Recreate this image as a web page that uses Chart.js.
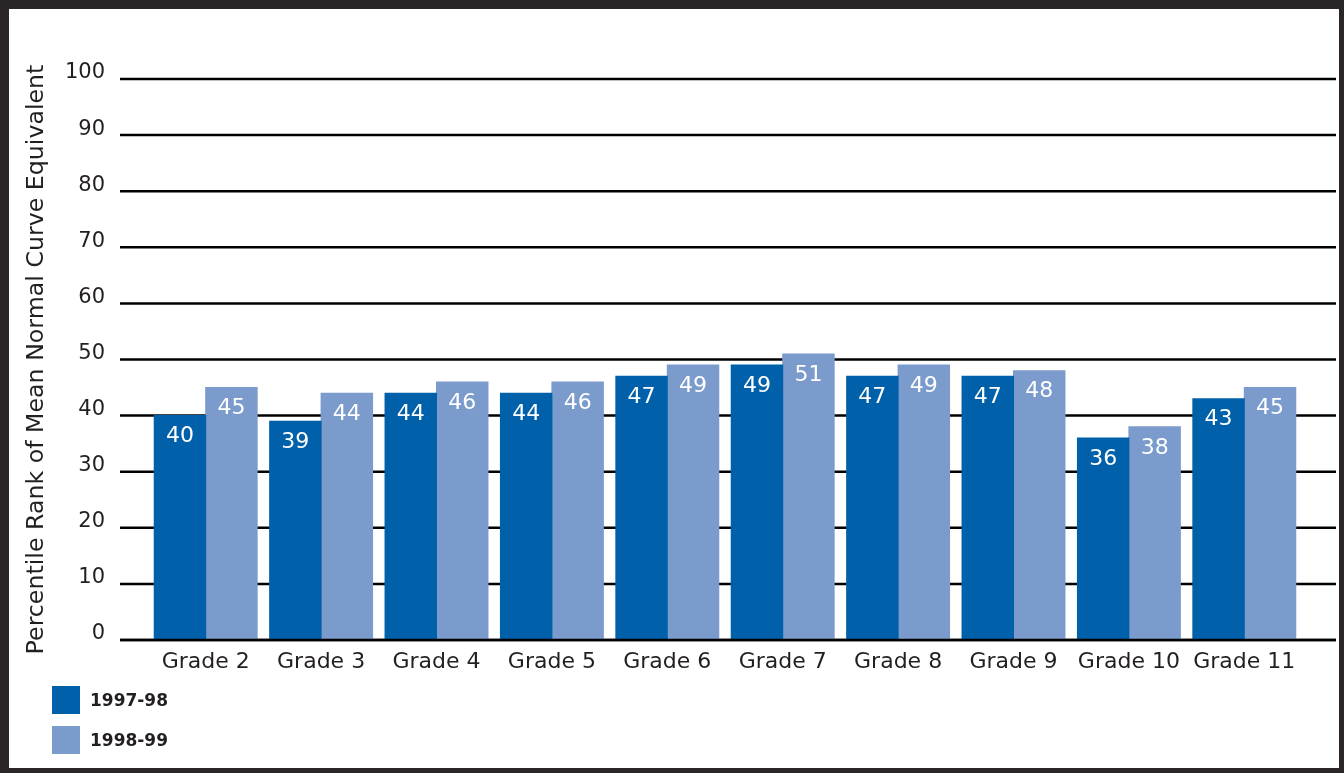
<!DOCTYPE html>
<html>
<head>
<meta charset="utf-8">
<script src="https://cdn.jsdelivr.net/npm/chart.js@4"></script>
<style>
  html, body { margin: 0; padding: 0; background: #fff; }
  #wrap { position: relative; width: 1344px; height: 773px; overflow: hidden; }
  #frame { position: absolute; left: 0; top: 0; width: 1344px; height: 773px; box-sizing: border-box;
           border-style: solid; border-color: #2a2627; border-width: 9px 5px 5px 9px; pointer-events: none; }
  #legend { position: absolute; left: 52px; top: 686px; font-family: "DejaVu Sans", sans-serif;
            font-weight: bold; font-size: 17px; color: #231f20; }
  #legend .item { display: flex; align-items: center; height: 28px; margin-bottom: 12px; }
  #legend .box { width: 28px; height: 28px; margin-right: 10px; }
</style>
</head>
<body>
<div id="wrap">
  <canvas id="chartCanvas"></canvas>
  <div id="legend"></div>
  <div id="frame"></div>
</div>
<script>
const grades = ['Grade 2', 'Grade 3', 'Grade 4', 'Grade 5', 'Grade 6', 'Grade 7', 'Grade 8', 'Grade 9', 'Grade 10', 'Grade 11'];
const year9798 = [40, 39, 44, 44, 47, 49, 47, 47, 36, 43];
const year9899 = [45, 44, 46, 46, 49, 51, 49, 48, 38, 45];
const seriesNames = ['1997-98', '1998-99'];
const seriesColors = ['#0061aa', '#7a9bcb'];

const FONT = '"DejaVu Sans", sans-serif';
const ctx = document.getElementById('chartCanvas').getContext('2d');

// horizontal rules run wider than the bar area
const gridLines = {
    id: 'grid_lines',
    drawLine(chart, v) {
        const y = chart.scales.y.getPixelForValue(v);
        const c = chart.ctx;
        c.save();
        c.strokeStyle = '#000';
        c.lineWidth = 2.5;
        c.beginPath();
        c.moveTo(120, y);
        c.lineTo(1336, y);
        c.stroke();
        c.restore();
    },
    beforeDatasetsDraw(chart) {
        chart.scales.y.ticks.forEach(t => this.drawLine(chart, t.value));
    },
    afterDatasetsDraw(chart) {
        this.drawLine(chart, 0);
    }
};

// value printed inside the top of each bar
const barValues = {
    id: 'bar_values',
    afterDatasetsDraw(chart) {
        const c = chart.ctx;
        c.save();
        c.fillStyle = '#fff';
        c.font = '22px ' + FONT;
        c.textAlign = 'center';
        c.textBaseline = 'middle';
        chart.data.datasets.forEach((ds, i) => {
            chart.getDatasetMeta(i).data.forEach((bar, j) => {
                c.fillText(ds.data[j], bar.x, bar.y + 21);
            });
        });
        c.restore();
    }
};

const chart = new Chart(ctx, {
    type: 'bar',
    data: {
        labels: grades,
        datasets: [
            { label: seriesNames[0], data: year9798, backgroundColor: seriesColors[0] },
            { label: seriesNames[1], data: year9899, backgroundColor: seriesColors[1] }
        ]
    },
    options: {
        responsive: true,
        maintainAspectRatio: false,
        animation: false,
        datasets: { bar: { barPercentage: 1, categoryPercentage: 0.892, borderWidth: 0, inflateAmount: 0.5 } },
        layout: { padding: { top: 79, left: 0, right: 42, bottom: 0 } },
        plugins: {
            legend: { display: false },
            tooltip: { enabled: false }
        },
        scales: {
            x: {
                grid: { display: false, drawTicks: false },
                border: { display: false },
                ticks: { color: '#231f20', font: { family: FONT, size: 22 }, padding: 9, maxRotation: 0 },
                afterFit(scale) { scale.height = 133; }
            },
            y: {
                min: 0,
                max: 100,
                grid: { display: false, drawTicks: false },
                border: { display: false },
                ticks: { stepSize: 10, color: '#231f20', font: { family: FONT, size: 21 }, padding: 43, labelOffset: -6 },
                title: {
                    display: true,
                    text: 'Percentile Rank of Mean Normal Curve Equivalent',
                    color: '#231f20',
                    font: { family: FONT, size: 23.7 },
                    padding: { top: 22.6, bottom: 0 }
                },
                afterFit(scale) { scale.width = 148; }
            }
        }
    },
    plugins: [gridLines, barValues]
});

// legend stacked in the lower left corner
const legendEl = document.getElementById('legend');
chart.data.datasets.forEach(ds => {
    const item = document.createElement('div');
    item.className = 'item';
    const box = document.createElement('span');
    box.className = 'box';
    box.style.background = ds.backgroundColor;
    const txt = document.createElement('span');
    txt.textContent = ds.label;
    item.appendChild(box);
    item.appendChild(txt);
    legendEl.appendChild(item);
});
</script>
</body>
</html>
